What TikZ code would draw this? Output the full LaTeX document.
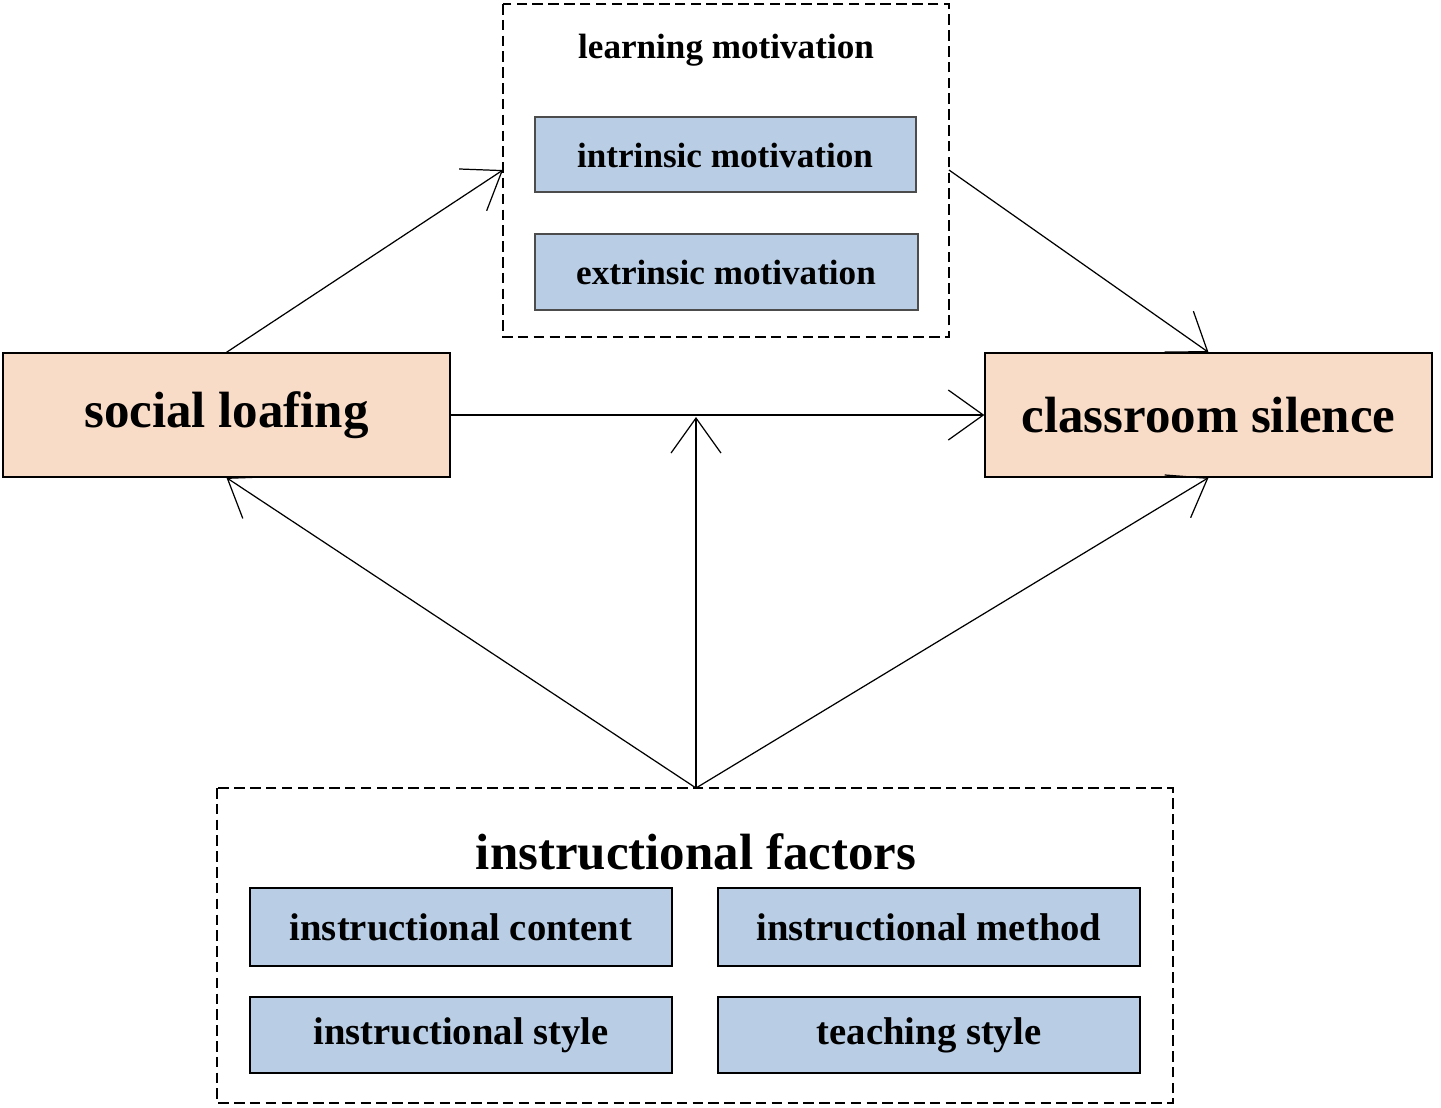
\documentclass[tikz,border=0pt]{standalone}
\usepackage{fontspec}
\setmainfont{Liberation Serif}
\usetikzlibrary{arrows.meta}
\begin{document}
\begin{tikzpicture}[x=0.02cm,y=-0.02cm,
  bluebox/.style={draw=black!70,fill=blue1,line width=0.8pt},
  peachbox/.style={draw=black,fill=peach,line width=0.8pt},
  dbox/.style={draw=black,dashed,line width=0.8pt,dash pattern=on 6pt off 3pt},
  conn/.style={line width=0.7pt,-{Straight Barb[length=0.7cm,width=1cm,line width=0.7pt]}},
  btxt/.style={font=\bfseries\fontsize{20}{24}\selectfont},
  ftxt/.style={font=\bfseries\fontsize{22}{26}\selectfont}]
\definecolor{blue1}{HTML}{B9CDE5}
\definecolor{peach}{HTML}{F9DCC8}
\useasboundingbox (0,0) rectangle (1441,1107);
\draw[dbox] (503,4) rectangle (949,337);
\node[btxt] (lm) at (726,50) {learning motivation};
\draw[bluebox] (535,117) rectangle (916,192);
\node[btxt] (im) at (725,155) {intrinsic motivation};
\draw[bluebox] (535,234) rectangle (918,310);
\node[btxt] (em) at (726,272) {extrinsic motivation};
\node[peachbox,minimum width=8.94cm,minimum height=2.48cm,font=\bfseries\fontsize{29}{34}\selectfont] (sl) at (226.5,415) {social loafing};
\node[peachbox,minimum width=8.94cm,minimum height=2.48cm,font=\bfseries\fontsize{29}{34}\selectfont] (cs) at (1208.5,415) {classroom silence};
\draw[dbox] (217,788) rectangle (1173,1103);
\node[font=\bfseries\fontsize{29}{34}\selectfont] (if) at (696,852) {instructional factors};
\node[bluebox,draw=black,minimum width=8.44cm,minimum height=1.56cm,ftxt] (c1) at (461,927) {instructional content};
\node[bluebox,draw=black,minimum width=8.44cm,minimum height=1.56cm,ftxt] (c2) at (929,927) {instructional method};
\node[bluebox,draw=black,minimum width=8.44cm,minimum height=1.52cm,ftxt] (c3) at (461,1035) {instructional style};
\node[bluebox,draw=black,minimum width=8.44cm,minimum height=1.52cm,ftxt] (c4) at (929,1035) {teaching style};
\coordinate (mtl) at (503,170);
\coordinate (mtr) at (949,170);
\coordinate (src) at (696,788);
\coordinate (mid) at (696,417);
\draw[conn] (sl.north) -- (mtl);
\draw[conn] (mtr) -- (cs.north);
\draw[conn] (sl.east) -- (cs.west);
\draw[conn] (src) -- (mid);
\draw[conn] (src) -- (sl.south);
\draw[conn] (src) -- (cs.south);
\end{tikzpicture}
\end{document}
